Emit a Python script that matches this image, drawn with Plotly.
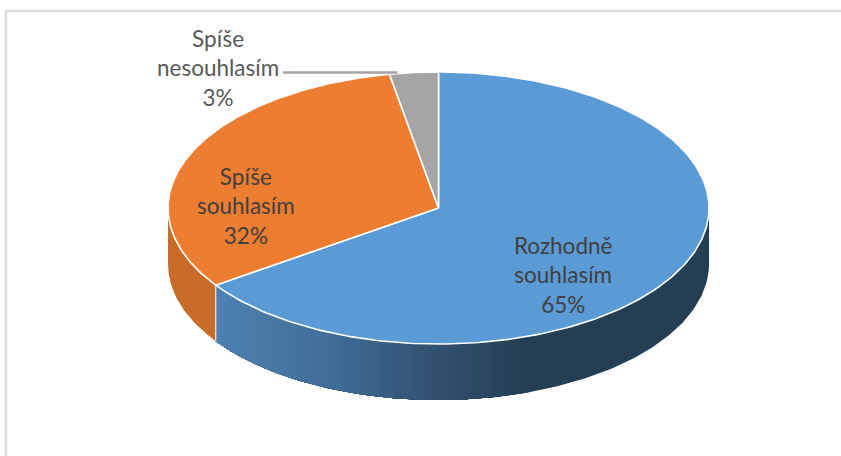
import numpy as np
import plotly.graph_objects as go

labels = ["Rozhodně<br>souhlasím", "Spíše<br>souhlasím", "Spíše<br>nesouhlasím"]
values = [65.4, 31.7, 2.9]
colors = ["#5b9bd5", "#ed7d31", "#a5a5a5"]
label_pos = [(563, 275), (246, 206), (218, 68)]

CX, CY, RX, RY, DEPTH = 438.5, 208, 270.5, 136, 56
GRAD_X = [216, 330, 440, 530, 710]
GRAD_R = [78, 66, 50, 36, 36]
GRAD_G = [130, 110, 80, 62, 62]
GRAD_B = [178, 152, 112, 84, 84]


def rim(a):
    """Clockwise from 12 o'clock, in radians, on the top ellipse."""
    return CX + RX * np.sin(a), CY - RY * np.cos(a)


fig = go.Figure()
total = sum(values)
edges = np.cumsum([0] + values) / total * 2 * np.pi


def add_poly(x, y, fill, line=None, width=0):
    fig.add_trace(go.Scatter(
        x=x, y=y, mode="lines", fill="toself", fillcolor=fill,
        line=dict(color=line or fill, width=width), hoverinfo="skip", showlegend=False))


def wall_poly(a0, a1, colour):
    seg = np.linspace(a0, a1, max(3, int(np.degrees(a1 - a0)) + 2))
    x, y = rim(seg)
    add_poly(np.r_[x, x[::-1]], np.r_[y, y[::-1] + DEPTH], colour)


def blue_side(x):
    return "rgb(%d,%d,%d)" % (np.interp(x, GRAD_X, GRAD_R), np.interp(x, GRAD_X, GRAD_G), np.interp(x, GRAD_X, GRAD_B))


# painter's algorithm: every band reaches to the wall's far end, so no seams show
a_flat = np.pi - np.arcsin((GRAD_X[3] - CX) / RX)
wall_poly(np.pi / 2, edges[1], blue_side(GRAD_X[3]))
for s in np.arange(a_flat, edges[1], np.radians(1.0)):
    wall_poly(s, edges[1], blue_side(rim(s)[0]))
wall_poly(edges[1], 3 * np.pi / 2, "#c96b29")

# divider between the blue and orange walls
x0, y0 = rim(edges[1])
fig.add_trace(go.Scatter(x=[x0, x0], y=[y0, y0 + DEPTH], mode="lines",
                         line=dict(color="#e8e8e8", width=1.2), hoverinfo="skip", showlegend=False))

# top face wedges
for i in range(len(values)):
    a = np.linspace(edges[i], edges[i + 1], 240)
    x, y = rim(a)
    add_poly(np.r_[CX, x, CX], np.r_[CY, y, CY], colors[i], "#ffffff", 1.6)

# leader line for the small slice
lx = rim(edges[2])[0] + 8
fig.add_trace(go.Scatter(x=[283, lx], y=[72.5, 72.5], mode="lines",
                         line=dict(color="#a5a5a5", width=2.6), hoverinfo="skip", showlegend=False))

for lab, v, (tx, ty), tc in zip(labels, values, label_pos, ["#404040", "#404040", "#595959"]):
    fig.add_annotation(x=tx, y=ty, text=f"{lab}<br>{v:.0f}%", showarrow=False, xanchor="center", yanchor="middle",
                       align="center", font=dict(family="Lato", size=22.5, color=tc))

frame = "#dcdcdc"
fig.add_shape(type="line", x0=6, x1=6, y0=10, y1=456, line=dict(color=frame, width=2.5), layer="below")
fig.add_shape(type="line", x0=5, x1=841, y0=11, y1=11, line=dict(color=frame, width=2.5), layer="below")

fig.update_layout(
    width=841, height=456, margin=dict(l=0, r=0, t=0, b=0),
    paper_bgcolor="white", plot_bgcolor="white", showlegend=False,
    xaxis=dict(range=[0, 841], visible=False, fixedrange=True),
    yaxis=dict(range=[456, 0], visible=False, fixedrange=True),
)
fig.write_html("out.html", config={"displayModeBar": False},
               post_script="document.body.style.margin='0';document.documentElement.style.overflow='hidden';")
